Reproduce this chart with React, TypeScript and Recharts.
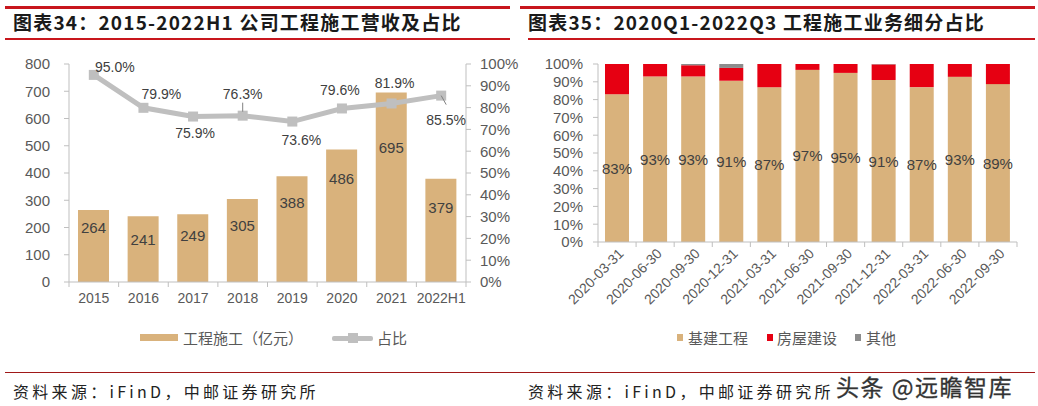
import React from 'react';
import { ComposedChart, BarChart, Bar, Line, XAxis, YAxis, LabelList } from 'recharts';

// ---------- data ----------
const years = ['2015', '2016', '2017', '2018', '2019', '2020', '2021', '2022H1'];
const revenue = [264, 241, 249, 305, 388, 486, 695, 379];
const share = [0.95, 0.799, 0.759, 0.763, 0.736, 0.796, 0.819, 0.855];
const revenueTicks = [0, 100, 200, 300, 400, 500, 600, 700, 800];
const pctTicks = [0, 0.1, 0.2, 0.3, 0.4, 0.5, 0.6, 0.7, 0.8, 0.9, 1];

const quarters = ['2020-03-31', '2020-06-30', '2020-09-30', '2020-12-31', '2021-03-31', '2021-06-30', '2021-09-30', '2021-12-31', '2022-03-31', '2022-06-30', '2022-09-30'];
const infra = [0.83, 0.93, 0.93, 0.906, 0.87, 0.967, 0.95, 0.91, 0.87, 0.928, 0.887];
const housing = [0.17, 0.07, 0.063, 0.072, 0.13, 0.033, 0.05, 0.088, 0.13, 0.072, 0.113];
const other = [0, 0, 0.007, 0.022, 0, 0, 0, 0.002, 0, 0, 0];

const leftData = years.map((y, i) => ({ year: y, revenue: revenue[i], share: share[i] }));
const rightData = quarters.map((q, i) => ({ q, infra: infra[i], housing: housing[i], other: other[i] }));

// ---------- style ----------
const TAN = '#D9B27C';
const RED = '#E60012';
const OTHER_GRAY = '#8C8C8C';
const LINE_GRAY = '#BFBFBF';
const AXIS = '#BFBFBF';
const TICK = '#595959';
const LABEL = '#404040';
const TITLE_RED = '#C8161D';
const FONT_LATIN = '"Liberation Sans", Arial, sans-serif';
const FONT_CJK = '"Noto Sans CJK SC", "Liberation Sans", sans-serif';

// left chart geometry
const L_W = 520, L_H = 320;
const L_MARGIN = { top: 64, right: 4, bottom: 8, left: 9 };
const L_PLOT_W = L_W - L_MARGIN.left - L_MARGIN.right - 60 - 50;
// right chart geometry
const R_W = 518, R_H = 330;
const R_MARGIN = { top: 64, right: 21, bottom: 8, left: 18 };
const R_PLOT_W = R_W - R_MARGIN.left - R_MARGIN.right - 60;

// label placement tweaks (visual offsets, px)
const barLabelDy = [17, 23, 21, 27, 26, 29, 55, 29];
const shareLabelOffset: [number, number][] = [[21, -8], [18, -14], [2, 16], [0, -22], [9, 18], [-2, -18], [3, -20], [5, 24]];

const LeftXTick = (props: any) => {
  const { x, y, payload, index } = props;
  const band = L_PLOT_W / years.length;
  return (
    <g>
      <line x1={x - band / 2} x2={x - band / 2} y1={y - 5} y2={y} stroke={AXIS} />
      {index === years.length - 1 && <line x1={x + band / 2} x2={x + band / 2} y1={y - 5} y2={y} stroke={AXIS} />}
      <text x={x} y={y + 11} textAnchor="middle" dominantBaseline="central" fill={TICK} fontSize={14} fontFamily={FONT_LATIN}>{payload.value}</text>
    </g>
  );
};

const RightXTick = (props: any) => {
  const { x, y, payload, index } = props;
  const band = R_PLOT_W / quarters.length;
  return (
    <g>
      <line x1={x - band / 2} x2={x - band / 2} y1={y - 5} y2={y} stroke={AXIS} />
      {index === quarters.length - 1 && <line x1={x + band / 2} x2={x + band / 2} y1={y - 5} y2={y} stroke={AXIS} />}
      <text x={x + 4} y={y + 4} transform={`rotate(-45 ${x + 4} ${y + 4})`} textAnchor="end" dominantBaseline="central" fill={TICK} fontSize={14} fontFamily={FONT_LATIN}>{payload.value}</text>
    </g>
  );
};

const renderBarLabel = (p: any) => {
  const { x, y, width, index, value } = p;
  return (
    <text key={`bl${index}`} x={x + width / 2} y={y + barLabelDy[index]} textAnchor="middle" dominantBaseline="central" fill={LABEL} fontSize={15} fontFamily={FONT_LATIN}>{value}</text>
  );
};

const renderShareLabel = (p: any) => {
  const { x, y, index, value } = p;
  const [dx, dy] = shareLabelOffset[index];
  return (
    <g key={`sl${index}`}>
      {index === 3 && <line x1={x} x2={x} y1={y - 13} y2={y - 4} stroke="#808080" strokeWidth={1} />}
      {index === 7 && <line x1={x} x2={x + 5} y1={y} y2={y + 9} stroke="#808080" strokeWidth={1} />}
      <text x={x + dx} y={y + dy} textAnchor="middle" dominantBaseline="central" fill={LABEL} fontSize={14} fontFamily={FONT_LATIN}>{(value * 100).toFixed(1)}%</text>
    </g>
  );
};

const renderStackLabel = (p: any) => {
  const { x, y, width, height, index, value } = p;
  return (
    <text key={`st${index}`} x={x + width / 2} y={y + height / 2} textAnchor="middle" dominantBaseline="central" fill={LABEL} fontSize={15} fontFamily={FONT_LATIN}>{Math.round(value * 100)}%</text>
  );
};

const SquareDot = (p: any) => {
  const { cx, cy, index } = p;
  return <rect key={`d${index}`} x={cx - 5} y={cy - 5} width={10} height={10} fill={LINE_GRAY} />;
};

const pct = (v: number) => `${Math.round(v * 100)}%`;

const titleStyle: React.CSSProperties = {
  position: 'absolute', top: 9, fontFamily: FONT_CJK, fontWeight: 700, fontSize: 19,
  letterSpacing: 1.2, color: '#1a1a1a', lineHeight: '26px', whiteSpace: 'nowrap',
};
const legendText: React.CSSProperties = {
  position: 'absolute', fontFamily: FONT_CJK, fontSize: 15, color: TICK, lineHeight: '20px', top: 328, whiteSpace: 'nowrap',
};
const sourceStyle: React.CSSProperties = {
  position: 'absolute', top: 379, fontFamily: FONT_CJK, fontSize: 16, letterSpacing: 3.3, color: '#222', lineHeight: '24px', whiteSpace: 'nowrap',
};

export default function App() {
  return (
    <div style={{ position: 'absolute', left: 0, top: 0, width: 1038, height: 406, background: '#fff', overflow: 'hidden' }}>
      {/* title bars */}
      <div style={{ position: 'absolute', left: 5, top: 6, width: 505, height: 3, background: TITLE_RED }} />
      <div style={{ position: 'absolute', left: 5, top: 38, width: 505, height: 1.5, background: TITLE_RED }} />
      <div style={{ position: 'absolute', left: 520, top: 6, width: 515, height: 3, background: TITLE_RED }} />
      <div style={{ position: 'absolute', left: 528, top: 38, width: 507, height: 1.5, background: TITLE_RED }} />
      <div style={{ ...titleStyle, left: 13 }}>图表34：2015-2022H1 公司工程施工营收及占比</div>
      <div style={{ ...titleStyle, left: 528 }}>图表35：2020Q1-2022Q3 工程施工业务细分占比</div>

      {/* left chart */}
      <div style={{ position: 'absolute', left: 0, top: 0 }}>
        <ComposedChart width={L_W} height={L_H} data={leftData} margin={L_MARGIN}>
          <XAxis dataKey="year" height={30} interval={0} tickLine={false} tickSize={5} tickMargin={0} axisLine={{ stroke: AXIS }} tick={<LeftXTick />} />
          <YAxis yAxisId="v" width={60} domain={[0, 800]} ticks={revenueTicks} interval={0} tickSize={5} tickMargin={14}
            axisLine={{ stroke: AXIS }} tickLine={{ stroke: AXIS }} tick={{ fill: TICK, fontSize: 15, fontFamily: FONT_LATIN }} />
          <YAxis yAxisId="p" orientation="right" width={50} domain={[0, 1]} ticks={pctTicks} interval={0} tickSize={5} tickMargin={9}
            tickFormatter={pct} axisLine={{ stroke: AXIS }} tickLine={{ stroke: AXIS }} tick={{ fill: TICK, fontSize: 15, fontFamily: FONT_LATIN }} />
          <Bar yAxisId="v" dataKey="revenue" fill={TAN} barSize={31} isAnimationActive={false}>
            <LabelList dataKey="revenue" content={renderBarLabel} />
          </Bar>
          <Line yAxisId="p" dataKey="share" stroke={LINE_GRAY} strokeWidth={5} dot={SquareDot} activeDot={false} isAnimationActive={false}>
            <LabelList dataKey="share" content={renderShareLabel} />
          </Line>
        </ComposedChart>
      </div>

      {/* right chart */}
      <div style={{ position: 'absolute', left: 520, top: 0 }}>
        <BarChart width={R_W} height={R_H} data={rightData} margin={R_MARGIN}>
          <XAxis dataKey="q" height={80} interval={0} tickLine={false} tickSize={5} tickMargin={0} axisLine={{ stroke: AXIS }} tick={<RightXTick />} />
          <YAxis width={60} domain={[0, 1]} allowDataOverflow ticks={pctTicks} interval={0} tickSize={5} tickMargin={10}
            tickFormatter={pct} axisLine={{ stroke: AXIS }} tickLine={{ stroke: AXIS }} tick={{ fill: TICK, fontSize: 15, fontFamily: FONT_LATIN }} />
          <Bar dataKey="infra" stackId="s" fill={TAN} barSize={24} isAnimationActive={false}>
            <LabelList dataKey="infra" content={renderStackLabel} />
          </Bar>
          <Bar dataKey="housing" stackId="s" fill={RED} barSize={24} isAnimationActive={false} />
          <Bar dataKey="other" stackId="s" fill={OTHER_GRAY} barSize={24} isAnimationActive={false} />
        </BarChart>
      </div>

      {/* left legend */}
      <div style={{ position: 'absolute', left: 140, top: 334, width: 38, height: 7, background: TAN }} />
      <div style={{ ...legendText, left: 183 }}>工程施工（亿元）</div>
      <div style={{ position: 'absolute', left: 332, top: 335.5, width: 41, height: 5, background: LINE_GRAY, borderRadius: 2 }} />
      <div style={{ position: 'absolute', left: 348, top: 333, width: 10, height: 10, background: LINE_GRAY }} />
      <div style={{ ...legendText, left: 377 }}>占比</div>

      {/* right legend */}
      <div style={{ position: 'absolute', left: 677, top: 334, width: 6, height: 7, background: TAN }} />
      <div style={{ ...legendText, left: 688 }}>基建工程</div>
      <div style={{ position: 'absolute', left: 767, top: 334, width: 6, height: 7, background: RED }} />
      <div style={{ ...legendText, left: 777 }}>房屋建设</div>
      <div style={{ position: 'absolute', left: 855, top: 334, width: 6, height: 7, background: OTHER_GRAY }} />
      <div style={{ ...legendText, left: 866 }}>其他</div>

      {/* source */}
      <div style={{ position: 'absolute', left: 5, top: 372, width: 1030, height: 1, background: '#A01818' }} />
      <div style={{ ...sourceStyle, left: 13 }}>资料来源：iFinD，中邮证券研究所</div>
      <div style={{ ...sourceStyle, left: 528 }}>资料来源：iFinD，中邮证券研究所</div>
      <div style={{ position: 'absolute', left: 836, top: 370, fontFamily: FONT_CJK, fontSize: 23, letterSpacing: 1.5, color: '#333', lineHeight: '32px', whiteSpace: 'nowrap', WebkitTextStroke: '0.3px #333' }}>头条 @远瞻智库</div>
    </div>
  );
}
